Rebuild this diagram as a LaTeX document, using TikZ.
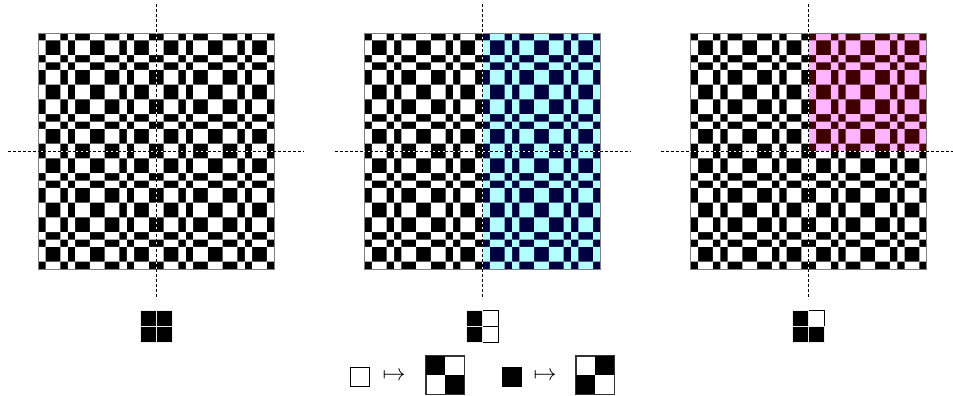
\documentclass[tikz,border=0pt]{standalone}
\usepackage{amsmath}
\usepackage{graphicx}
\definecolor{lcyan}{RGB}{179,255,255}
\definecolor{dnavy}{RGB}{0,0,64}
\definecolor{lpink}{RGB}{255,179,255}
\definecolor{dmaroon}{RGB}{64,0,0}
\newcommand\tmquad[4]{% x0 y0 dark light
  \fill[#3] (#1,#2) rectangle ++(118,118);
  \fill[#4,even odd rule] \foreach \a/\b in {1/3,4/5,7/9,11/12,13/15}{
    (#1,#2+\a*7.375) rectangle (#1+118,#2+\b*7.375)
    (#1+\a*7.375,#2) rectangle (#1+\b*7.375,#2+118) };
}
\tikzset{
  axisline/.style={line width=0.9pt,dash pattern=on 3pt off 2pt},
  axisbg/.style={line width=0.9pt,white},
  boxframe/.style={draw=gray,line width=0.8pt},
  wcell/.style={fill=white,draw=black,line width=0.8pt},
  bcell/.style={fill=black,draw=gray!15,line width=0.9pt},
  wsq/.style={draw=black,fill=white,line width=0.8pt,minimum size=19pt,inner sep=0pt},
  bsq/.style={draw=black,fill=black,line width=0.8pt,minimum size=19pt,inner sep=0pt},
  blk/.style={draw=black!80,line width=0.8pt,minimum size=38pt,inner sep=0pt},
  arr/.style={inner sep=0pt}
}
\begin{document}
\begin{tikzpicture}[x=1pt,y=-1pt]
\useasboundingbox (0,0) rectangle (953,396);
% panels: centers
\foreach \cx/\trd/\trl/\brd/\brl [count=\k] in {
   156.25/black/white/black/white,
   482.5/dnavy/lcyan/dnavy/lcyan,
   808.75/dmaroon/lpink/black/white}{
  \tmquad{\cx-118}{33}{black}{white}
  \tmquad{\cx-118}{151}{black}{white}
  \tmquad{\cx}{33}{\trd}{\trl}
  \tmquad{\cx}{151}{\brd}{\brl}
  \draw[boxframe] (\cx-118,33) rectangle (\cx+118,269);
  \coordinate (vt\k) at (\cx,4);
  \coordinate (vb\k) at (\cx,299);
  \coordinate (hl\k) at (\cx-148,151);
  \coordinate (hr\k) at (\cx+148,151);
  \draw[axisbg] (vt\k) -- (vb\k);
  \draw[axisbg] (hl\k) -- (hr\k);
  \draw[axisline] (vt\k) -- (vb\k);
  \draw[axisline] (hl\k) -- (hr\k);
}
% seeds
% left: all black
\foreach \dx/\dy in {-16/310.5,0/310.5,-16/326.5,0/326.5}
  \draw[bcell] (156.25+\dx,\dy) rectangle ++(16,16);
% middle: TL B, TR W, BL B, BR W
\draw[wcell] (482.5,310.5) rectangle ++(16,16);
\draw[wcell] (482.5,326.5) rectangle ++(16,16);
\draw[bcell] (466.5,310.5) rectangle ++(16,16);
\draw[bcell] (466.5,326.5) rectangle ++(16,16);
% right: TR W, rest B
\draw[wcell] (808.75,310.5) rectangle ++(16,16);
\draw[bcell] (792.75,310.5) rectangle ++(16,16);
\draw[bcell] (792.75,326.5) rectangle ++(16,16);
\draw[bcell] (808.75,326.5) rectangle ++(16,16);
% legend
\node[wsq] (ws) at (359.5,376.5) {};
\node[arr] (a1) at (394,376) {\scalebox{2.3}{$\mapsto$}};
\node[blk] (b1) at (445,375) {};
\fill[black] (b1.north west) rectangle (b1.center);
\fill[black] (b1.center) rectangle (b1.south east);
\draw[draw=black!80,line width=0.8pt] (b1.north west) rectangle (b1.south east);
\node[bsq] (bs) at (511.5,376.5) {};
\node[arr] (a2) at (545,376) {\scalebox{2.3}{$\mapsto$}};
\node[blk] (b2) at (595,375) {};
\fill[black] (b2.north) rectangle (b2.east);
\fill[black] (b2.west) rectangle (b2.south);
\draw[draw=black!80,line width=0.8pt] (b2.north west) rectangle (b2.south east);
\end{tikzpicture}
\end{document}
